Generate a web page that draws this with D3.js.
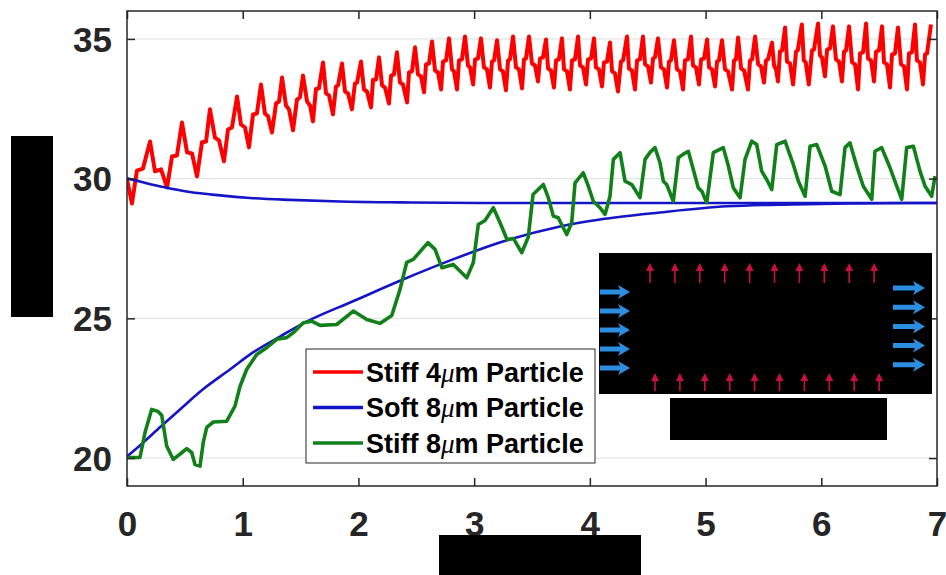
<!DOCTYPE html>
<html><head><meta charset="utf-8">
<script src="https://cdn.jsdelivr.net/npm/d3@7"></script>
<style>html,body{margin:0;padding:0;background:#fff;}svg{display:block;}</style>
</head><body>
<svg id="chart" width="946" height="575"></svg>
<script>
// ---------- data ----------
const xTicks = [0, 1, 2, 3, 4, 5, 6, 7];
const yTicks = [20, 25, 30, 35];
const seriesNames = ["Stiff 4", "Soft 8", "Stiff 8"];
const seriesColors = ["#ff0000", "#1414c8", "#12801a"];

const stiff4 = [
[0,29.97],[0.043,29.11],[0.086,30.29],[0.138,30.36],[0.199,31.33],[0.242,30.26],[0.294,30.33],[0.346,29.69],
[0.389,30.79],[0.432,30.83],[0.475,32.01],[0.519,30.94],[0.562,30.90],[0.605,30.08],
[0.648,31.30],[0.683,31.33],[0.717,32.48],[0.760,31.47],[0.795,31.37],[0.838,30.62],
[0.873,31.76],[0.907,31.83],[0.951,32.94],[0.985,31.94],[1.020,31.83],[1.054,31.12],
[1.089,32.30],[1.123,32.33],[1.158,33.37],[1.192,32.33],[1.219,32.23],[1.253,31.65],
[1.288,32.69],[1.314,32.76],[1.340,33.62],[1.374,32.62],[1.400,32.48],[1.435,31.73],
[1.469,32.83],[1.495,32.91],[1.521,33.69],[1.556,32.76],[1.582,32.62],[1.607,32.05],
[1.633,33.21],[1.659,33.23],[1.694,34.16],[1.720,33.05],[1.746,32.98],[1.780,32.30],
[1.806,33.30],[1.824,33.34],[1.858,34.12],[1.884,33.12],[1.910,33.05],[1.944,32.48],
[1.970,33.41],[1.988,33.44],[2.022,34.19],[2.048,33.19],[2.074,33.12],[2.109,32.55],
[2.126,33.53],[2.152,33.55],[2.178,34.34],[2.204,33.34],[2.230,33.26],[2.264,32.69],
[2.282,33.69],[2.307,33.73],[2.333,34.52],[2.359,33.44],[2.385,33.37],[2.420,32.73],
[2.437,33.80],[2.463,33.84],[2.489,34.70],[2.515,33.73],[2.541,33.66],[2.567,33.09],
[2.584,34.09],[2.610,34.12],[2.636,34.91],[2.662,33.87],[2.688,33.80],[2.714,33.19],
[2.731,34.19],[2.757,34.23],[2.783,35.02],[2.809,33.91],[2.826,33.84],[2.852,33.19],
[2.869,34.23],[2.895,34.27],[2.921,35.09],[2.947,34.05],[2.965,33.98],[2.991,33.37],
[3.008,34.27],[3.033,34.30],[3.059,35.02],[3.085,33.98],[3.111,33.91],[3.137,33.26],
[3.154,34.19],[3.172,34.23],[3.198,34.95],[3.224,33.91],[3.249,33.84],[3.275,33.16],
[3.293,34.23],[3.310,34.27],[3.336,35.09],[3.362,33.98],[3.388,33.91],[3.414,33.23],
[3.431,34.27],[3.448,34.30],[3.474,35.09],[3.500,34.12],[3.526,34.05],[3.552,33.48],
[3.569,34.30],[3.595,34.34],[3.621,34.98],[3.639,33.94],[3.664,33.87],[3.690,33.26],
[3.708,34.23],[3.733,34.27],[3.759,35.02],[3.777,33.91],[3.803,33.84],[3.828,33.19],
[3.846,34.23],[3.872,34.27],[3.898,35.09],[3.915,34.05],[3.941,33.98],[3.967,33.37],
[3.984,34.27],[4.010,34.30],[4.036,35.02],[4.053,33.98],[4.079,33.91],[4.105,33.30],
[4.122,34.16],[4.148,34.19],[4.174,34.87],[4.192,33.84],[4.217,33.77],[4.243,33.12],
[4.269,34.19],[4.287,34.23],[4.321,35.09],[4.338,33.94],[4.364,33.87],[4.390,33.19],
[4.408,34.23],[4.433,34.27],[4.459,35.09],[4.477,34.09],[4.503,34.02],[4.528,33.44],
[4.546,34.30],[4.563,34.34],[4.589,35.02],[4.615,33.98],[4.641,33.91],[4.667,33.26],
[4.684,34.19],[4.701,34.23],[4.727,34.95],[4.753,33.91],[4.779,33.84],[4.805,33.19],
[4.822,34.23],[4.848,34.27],[4.874,35.09],[4.891,34.05],[4.917,33.98],[4.943,33.37],
[4.961,34.27],[4.987,34.30],[5.013,34.98],[5.030,33.98],[5.056,33.91],[5.082,33.30],
[5.099,34.19],[5.116,34.23],[5.142,34.95],[5.168,33.91],[5.194,33.84],[5.229,33.19],
[5.246,34.23],[5.263,34.27],[5.281,35.05],[5.307,33.94],[5.333,33.87],[5.367,33.19],
[5.384,34.23],[5.402,34.27],[5.428,35.09],[5.454,34.09],[5.479,34.02],[5.505,33.44],
[5.522,34.23],[5.540,34.27],[5.574,34.87],[5.592,34.05],[5.609,33.91],[5.626,33.48],
[5.643,34.55],[5.661,34.59],[5.687,35.41],[5.704,34.19],[5.730,34.12],[5.756,33.37],
[5.782,34.55],[5.797,34.59],[5.832,35.52],[5.849,34.23],[5.866,34.16],[5.892,33.37],
[5.920,34.59],[5.937,34.62],[5.972,35.55],[5.989,34.41],[6.006,34.34],[6.032,33.66],
[6.050,34.62],[6.075,34.66],[6.101,35.45],[6.127,34.27],[6.153,34.19],[6.179,33.48],
[6.197,34.55],[6.214,34.59],[6.240,35.45],[6.266,34.16],[6.292,34.09],[6.318,33.19],
[6.335,34.48],[6.361,34.52],[6.387,35.55],[6.404,34.30],[6.430,34.23],[6.456,33.48],
[6.473,34.55],[6.499,34.59],[6.525,35.45],[6.542,34.16],[6.568,34.09],[6.594,33.26],
[6.611,34.45],[6.637,34.48],[6.663,35.41],[6.689,34.09],[6.715,34.02],[6.741,33.19],
[6.758,34.48],[6.784,34.52],[6.810,35.52],[6.827,34.23],[6.853,34.16],[6.879,33.37],
[6.897,34.45],[6.914,34.48],[6.948,35.52]
];

const soft8Decay = [
[0,30.01],[0.112,29.90],[0.242,29.76],[0.372,29.65],[0.544,29.52],[0.804,29.40],[1.063,29.31],
[1.409,29.24],[1.841,29.18],[2.359,29.15],[3.051,29.13],[4.088,29.13],[7.0,29.13]
];

const soft8Rise = [
[0,20.06],[0.112,20.45],[0.285,21.10],[0.458,21.74],[0.657,22.46],[0.890,23.17],[1.089,23.78],
[1.322,24.35],[1.556,24.89],[1.953,25.61],[2.385,26.39],[2.817,27.11],[3.249,27.75],[3.742,28.29],
[4.088,28.54],[4.606,28.79],[5.185,29.01],[5.756,29.08],[6.248,29.11],[7.0,29.13]
];

const stiff8 = [
[0,20.02],[0.112,20.02],[0.156,20.92],[0.213,21.74],[0.268,21.67],[0.300,21.53],[0.343,20.43],
[0.400,19.95],[0.473,20.19],[0.516,20.34],[0.559,20.20],[0.588,19.77],[0.631,19.71],[0.659,20.56],
[0.689,21.10],[0.746,21.29],[0.862,21.32],[0.933,21.86],[0.977,22.57],[1.034,23.17],[1.121,23.71],
[1.207,23.95],[1.294,24.25],[1.380,24.31],[1.437,24.49],[1.524,24.84],[1.596,24.90],[1.668,24.75],
[1.812,24.78],[1.956,25.26],[2.072,24.96],[2.186,24.82],[2.288,25.10],[2.359,26.03],[2.417,27.00],
[2.474,27.11],[2.601,27.71],[2.662,27.47],[2.722,26.81],[2.820,26.93],[2.936,26.45],[2.993,27.00],
[3.036,28.36],[3.094,28.50],[3.166,28.96],[3.224,28.42],[3.284,27.82],[3.339,27.86],[3.411,27.35],
[3.468,27.91],[3.509,29.43],[3.598,29.79],[3.641,29.32],[3.684,28.66],[3.727,28.60],[3.800,28.00],
[3.843,28.42],[3.872,29.85],[3.943,30.21],[3.987,29.73],[4.030,29.19],[4.088,28.96],[4.131,28.72],
[4.174,29.37],[4.203,30.69],[4.261,30.93],[4.304,29.91],[4.362,29.79],[4.433,29.32],[4.477,30.69],
[4.520,30.94],[4.563,31.11],[4.606,30.57],[4.635,29.91],[4.664,29.79],[4.721,29.19],[4.765,30.75],
[4.805,30.87],[4.851,30.98],[4.894,30.33],[4.937,29.67],[4.969,29.54],[5.010,29.14],[5.067,30.93],
[5.153,31.11],[5.197,30.45],[5.240,29.67],[5.298,29.32],[5.341,30.69],[5.399,31.34],[5.442,31.22],
[5.485,30.27],[5.528,29.97],[5.572,29.61],[5.615,31.22],[5.687,31.34],[5.758,30.51],[5.802,29.91],
[5.860,29.37],[5.903,31.16],[5.961,31.22],[6.033,30.45],[6.090,29.55],[6.162,29.43],[6.205,31.11],
[6.248,31.28],[6.306,30.45],[6.363,29.73],[6.436,29.26],[6.464,30.98],[6.522,31.11],[6.594,30.39],
[6.652,29.73],[6.695,29.26],[6.738,31.11],[6.796,31.16],[6.853,30.27],[6.897,29.73],[6.954,29.37],
[6.983,30.09]
];

// ---------- layout ----------
const svg = d3.select("#chart");
const L = 127, R = 937, T = 11, B = 486;
const x = d3.scaleLinear().domain([0, 7]).range([L, R]);
const y = d3.scaleLinear().domain([19, 36]).range([B, T]);
const font = "'Liberation Sans', Arial, Helvetica, sans-serif";
const axisCol = "#262626";

svg.append("rect").attr("width", 946).attr("height", 575).attr("fill", "#fff");

// grid
svg.append("g").selectAll("line").data(yTicks).join("line")
  .attr("x1", L).attr("x2", R).attr("y1", d => y(d)).attr("y2", d => y(d))
  .attr("stroke", "#dedede").attr("stroke-width", 1);

// clip
svg.append("defs").append("clipPath").attr("id", "clip")
  .append("rect").attr("x", L).attr("y", T).attr("width", R - L).attr("height", B - T);

const line = d3.line().x(d => x(d[0])).y(d => y(d[1]));
const smooth = d3.line().x(d => x(d[0])).y(d => y(d[1])).curve(d3.curveMonotoneX);
const plot = svg.append("g").attr("clip-path", "url(#clip)");

plot.append("path").datum(stiff4).attr("d", line).attr("fill", "none")
  .attr("stroke", seriesColors[0]).attr("stroke-width", 4).attr("stroke-linejoin", "round");
[soft8Decay, soft8Rise].forEach(s => {
  plot.append("path").datum(s).attr("d", smooth).attr("fill", "none")
    .attr("stroke", seriesColors[1]).attr("stroke-width", 2.6);
});
plot.append("path").datum(stiff8).attr("d", line).attr("fill", "none")
  .attr("stroke", seriesColors[2]).attr("stroke-width", 3.6).attr("stroke-linejoin", "round");

// axes (box with inward ticks)
const xAxisB = d3.axisBottom(x).tickValues(xTicks).tickSize(-8).tickFormat(d3.format("d"));
const xAxisT = d3.axisTop(x).tickValues(xTicks).tickSize(-8).tickFormat("");
const yAxisL = d3.axisLeft(y).tickValues(yTicks).tickSize(-8).tickFormat(d3.format("d"));
const yAxisR = d3.axisRight(y).tickValues(yTicks).tickSize(-8).tickFormat("");

function styleAxis(g) {
  g.select(".domain").remove();
  g.selectAll(".tick line").attr("stroke", axisCol).attr("stroke-width", 1.5);
  g.selectAll(".tick text").attr("fill", axisCol).attr("font-family", font)
    .attr("font-weight", "bold").attr("font-size", 35);
}
const gb = svg.append("g").attr("transform", `translate(0,${B})`).call(xAxisB).call(styleAxis);
gb.selectAll(".tick text").attr("y", 50).attr("dy", 0);
svg.append("g").attr("transform", `translate(0,${T})`).call(xAxisT).call(styleAxis);
const gl = svg.append("g").attr("transform", `translate(${L},0)`).call(yAxisL).call(styleAxis);
gl.selectAll(".tick text").attr("x", -15).attr("dy", "0.35em");
svg.append("g").attr("transform", `translate(${R},0)`).call(yAxisR).call(styleAxis);

svg.append("rect").attr("x", L).attr("y", T).attr("width", R - L).attr("height", B - T)
  .attr("fill", "none").attr("stroke", axisCol).attr("stroke-width", 1.5);

// legend
const lg = svg.append("g").attr("transform", "translate(306,349)");
lg.append("rect").attr("width", 289).attr("height", 114).attr("fill", "#fff")
  .attr("stroke", axisCol).attr("stroke-width", 1);
seriesNames.forEach((nm, i) => {
  const cy = 23 + i * 35.5;
  lg.append("line").attr("x1", 7).attr("x2", 57).attr("y1", cy).attr("y2", cy)
    .attr("stroke", seriesColors[i]).attr("stroke-width", 3.5);
  const t = lg.append("text").attr("x", 60).attr("y", cy + 9.5).attr("font-family", font)
    .attr("font-weight", "bold").attr("font-size", 27).attr("fill", "#000");
  t.append("tspan").text(nm);
  t.append("tspan").attr("font-family", "'Liberation Serif', 'Times New Roman', serif")
    .attr("font-style", "italic").attr("font-weight", "normal").text("\u03bc");
  t.append("tspan").text("m Particle");
});

// inset image (black panel with arrows)
const ins = svg.append("g");
const insX = 599, insY = 253, insW = 333, insH = 141;
ins.append("rect").attr("x", insX).attr("y", insY).attr("width", insW).attr("height", insH).attr("fill", "#000");
const redArrowCol = "#c81040";
function upArrow(cx, y0, y1) {
  ins.append("line").attr("x1", cx).attr("x2", cx).attr("y1", y1).attr("y2", y0 + 5)
    .attr("stroke", redArrowCol).attr("stroke-width", 1.6);
  ins.append("path").attr("d", `M${cx - 4},${y0 + 8}L${cx},${y0}L${cx + 4},${y0 + 8}Z`).attr("fill", redArrowCol);
}
for (let i = 0; i < 10; i++) {
  upArrow(insX + 51 + i * 24.9, insY + 10, insY + 30);
  upArrow(insX + 56 + i * 24.9, insY + 120, insY + 138);
}
const blueArrowCol = "#2c8ee0";
function rightArrow(x0, cy, len) {
  ins.append("path").attr("d",
    `M${x0},${cy - 2.5}L${x0 + len - 10},${cy - 2.5}L${x0 + len - 12},${cy - 7}L${x0 + len},${cy}L${x0 + len - 12},${cy + 7}L${x0 + len - 10},${cy + 2.5}L${x0},${cy + 2.5}Z`)
    .attr("fill", blueArrowCol);
}
for (let i = 0; i < 5; i++) {
  rightArrow(insX + 1, insY + 39 + i * 19, 30);
  rightArrow(insX + 294, insY + 35 + i * 19.2, 32);
}

// redaction boxes (as in reference)
svg.append("rect").attr("x", 11).attr("y", 136).attr("width", 42).attr("height", 181).attr("fill", "#000");
svg.append("rect").attr("x", 670).attr("y", 398).attr("width", 217).attr("height", 42).attr("fill", "#000");
svg.append("rect").attr("x", 439).attr("y", 535).attr("width", 202).attr("height", 40).attr("fill", "#000");
</script>
</body></html>
